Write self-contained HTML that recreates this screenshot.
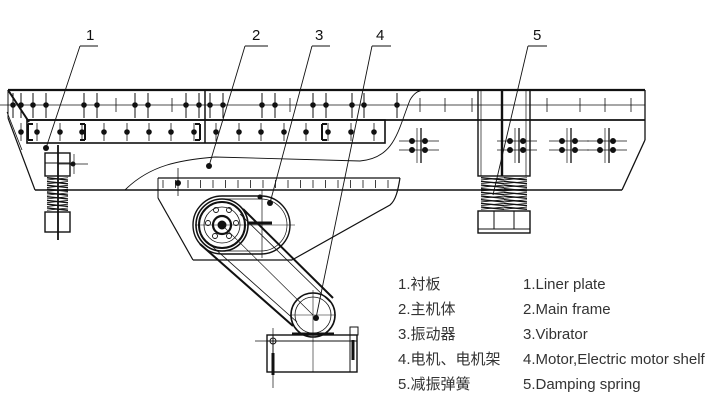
<!DOCTYPE html>
<html><head><meta charset="utf-8"><style>
html,body{margin:0;padding:0;background:#fff;width:715px;height:408px;overflow:hidden}
svg{position:absolute;left:0;top:0}
.t{font-family:"Liberation Sans","Noto Sans CJK SC",sans-serif;font-size:15px;fill:#333}
.n{font-family:"Liberation Sans",sans-serif;font-size:15px;fill:#111}
</style></head><body>
<svg id="s" width="715" height="408" viewBox="0 0 715 408" xmlns="http://www.w3.org/2000/svg">
<g stroke="#111" fill="none" stroke-width="1">
<line x1="8" y1="90" x2="645" y2="90" stroke-width="2.2"/>
<line x1="0" y1="105" x2="645" y2="105" stroke-width="0.7"/>
<line x1="27" y1="120" x2="645" y2="120" stroke-width="1.8"/>
<rect x="27" y="120" width="358" height="23" stroke-width="1.6"/>
<line x1="8" y1="90" x2="29" y2="122" stroke-width="2"/>
<line x1="8" y1="90" x2="8" y2="118" stroke-width="1"/>
<line x1="8" y1="118" x2="35" y2="190" stroke-width="1.2"/>
<line x1="7" y1="112" x2="22" y2="150" stroke-width="0.8"/>
<line x1="35" y1="190" x2="622" y2="190" stroke-width="1.4"/>
<line x1="645" y1="90" x2="645" y2="140" stroke-width="1.3"/>
<line x1="645" y1="140" x2="622" y2="190" stroke-width="1.3"/>
<line x1="205" y1="90" x2="205" y2="143" stroke-width="1.5"/>
<path d="M125,190 C150,165 180,160 215,157 L360,161 C395,158 398,130 410,100 C414,93 418,91 423,90" stroke-width="0.9"/>
<rect x="478" y="90" width="52" height="86" stroke-width="1.4"/>
<line x1="481" y1="90" x2="481" y2="176" stroke-width="0.7"/>
<line x1="502" y1="90" x2="502" y2="176" stroke-width="2.4"/>
<line x1="526" y1="90" x2="526" y2="176" stroke-width="0.7"/>
<rect x="478" y="211" width="52" height="22" stroke-width="1.4"/>
<line x1="478" y1="229" x2="530" y2="229"/>
<line x1="494" y1="211" x2="494" y2="229"/><line x1="514" y1="211" x2="514" y2="229"/>
<rect x="45" y="153" width="25" height="23" stroke-width="1.4"/>
<line x1="45" y1="163" x2="70" y2="163"/>
<rect x="45" y="212" width="25" height="20" stroke-width="1.4"/>
<line x1="58" y1="145" x2="58" y2="240" stroke-width="1.8"/>
<line x1="58" y1="164" x2="88" y2="164" stroke-width="0.7"/>
<line x1="74" y1="154" x2="74" y2="174" stroke-width="0.7"/>
<line x1="158" y1="178" x2="400" y2="178" stroke-width="1.3"/>
<line x1="158" y1="178" x2="158" y2="198"/>
<line x1="158" y1="198" x2="193" y2="260" stroke-width="1.2"/>
<line x1="193" y1="260" x2="292" y2="260" stroke-width="1.2"/>
<path d="M292,260 L390,205 C396,200 398,190 400,178" stroke-width="1.2"/>
<line x1="178" y1="168" x2="178" y2="196" stroke-width="0.8"/>
<rect x="193" y="196" width="97" height="58" rx="29" stroke-width="1.4"/>
<rect x="196" y="199" width="91" height="52" rx="26" stroke-width="0.7"/>
<line x1="262" y1="190" x2="262" y2="258" stroke-width="0.7"/>
<line x1="195" y1="225" x2="295" y2="225" stroke-width="0.6"/>
<circle cx="222" cy="225" r="26" stroke-width="1.6"/>
<circle cx="222" cy="225" r="23" stroke-width="2"/>
<circle cx="222" cy="225" r="18" stroke-width="0.8"/>
<circle cx="222" cy="225" r="9" stroke-width="2.2"/>
<circle cx="222" cy="225" r="4" fill="#111"/>
<g stroke-width="0.9"><circle cx="216" cy="210" r="2.5"/><circle cx="229" cy="210" r="2.5"/><circle cx="208" cy="223" r="2.5"/><circle cx="236" cy="223" r="2.5"/><circle cx="215" cy="236" r="2.5"/><circle cx="229" cy="236" r="2.5"/></g>
<line x1="248" y1="223" x2="272" y2="223" stroke-width="3"/>
<line x1="200" y1="244" x2="293" y2="326" stroke-width="2"/>
<line x1="205" y1="240" x2="297" y2="322" stroke-width="0.8"/>
<line x1="243" y1="209" x2="333" y2="298" stroke-width="2"/>
<line x1="240" y1="214" x2="330" y2="302" stroke-width="0.8"/>
<line x1="222" y1="225" x2="313" y2="315" stroke-width="0.6"/>
<circle cx="313" cy="315" r="22" stroke-width="1.6"/>
<circle cx="313" cy="315" r="18" stroke-width="0.8"/>
<line x1="290" y1="315" x2="336" y2="315" stroke-width="0.6"/>
<line x1="313" y1="290" x2="313" y2="372" stroke-width="0.6"/>
<path d="M292,334 L334,334" stroke-width="3"/>
<rect x="267" y="335" width="90" height="37" stroke-width="1.4"/>
<line x1="267" y1="341" x2="357" y2="341" stroke-width="1"/>
<line x1="273" y1="335" x2="273" y2="372"/>
<line x1="350" y1="335" x2="350" y2="372"/>
<line x1="255" y1="341" x2="283" y2="341" stroke-width="0.7"/>
<line x1="273" y1="328" x2="273" y2="388" stroke-width="0.7"/>
<circle cx="273" cy="341" r="3"/>
<line x1="273" y1="353" x2="273" y2="375" stroke-width="3"/>
<rect x="350" y="327" width="8" height="8"/>
<line x1="353" y1="340" x2="353" y2="360" stroke-width="3"/>
<g stroke-width="0.9">
<line x1="80" y1="46" x2="98" y2="46"/><line x1="80" y1="46" x2="46" y2="148"/>
<line x1="245" y1="46" x2="268" y2="46"/><line x1="245" y1="46" x2="209" y2="166"/>
<line x1="312" y1="46" x2="330" y2="46"/><line x1="312" y1="46" x2="270" y2="203"/>
<line x1="372" y1="46" x2="391" y2="46"/><line x1="372" y1="46" x2="316" y2="318"/>
<line x1="528" y1="46" x2="547" y2="46"/><line x1="528" y1="46" x2="493" y2="195"/>
</g>
</g>
<g fill="#111">
<circle cx="46" cy="148" r="3"/><circle cx="209" cy="166" r="3"/><circle cx="270" cy="203" r="3"/><circle cx="316" cy="318" r="3"/>
<circle cx="73" cy="164" r="2.5"/><circle cx="178" cy="183" r="3"/><circle cx="260" cy="197" r="2.5"/>
</g>
<g id="ticks" stroke="#111" fill="#111"></g>
<g id="coils" stroke="#111" fill="none" stroke-width="1.3"></g>
<text class="n" x="86" y="40">1</text>
<text class="n" x="252" y="40">2</text>
<text class="n" x="315" y="40">3</text>
<text class="n" x="376" y="40">4</text>
<text class="n" x="533" y="40">5</text>
<text class="t" x="398" y="289">1.衬板</text><text class="t" x="523" y="289">1.Liner plate</text>
<text class="t" x="398" y="314">2.主机体</text><text class="t" x="523" y="314">2.Main frame</text>
<text class="t" x="398" y="339">3.振动器</text><text class="t" x="523" y="339">3.Vibrator</text>
<text class="t" x="398" y="364">4.电机、电机架</text><text class="t" x="523" y="364">4.Motor,Electric motor shelf</text>
<text class="t" x="398" y="389">5.减振弹簧</text><text class="t" x="523" y="389">5.Damping spring</text>
</svg>
<script>
var NS="http://www.w3.org/2000/svg",g=document.getElementById("ticks"),c=document.getElementById("coils");
function L(p,x1,y1,x2,y2,w){var e=document.createElementNS(NS,"line");e.setAttribute("x1",x1);e.setAttribute("y1",y1);e.setAttribute("x2",x2);e.setAttribute("y2",y2);e.setAttribute("stroke-width",w||0.8);p.appendChild(e);}
function D(x,y,r){var e=document.createElementNS(NS,"circle");e.setAttribute("cx",x);e.setAttribute("cy",y);e.setAttribute("r",r||2.3);g.appendChild(e);}
[13,21,33,46,84,97,135,148,186,199,210,223,262,275,313,326,352,364,397].forEach(function(x){L(g,x,93,x,118,1);D(x,105);});
[116,172,290,420,445,472,547,580,605,631].forEach(function(x){L(g,x,98,x,112,0.8);});
[21,37,60,82,104,127,149,171,194,216,239,261,284,306,328,351,374].forEach(function(x){L(g,x,123,x,141,0.8);D(x,132);});
[[28,'l'],[85,'r'],[200,'r'],[322,'l']].forEach(function(a){var x=a[0];L(g,x,124,x,140,2);L(g,x,124,x+(a[1]=='l'?5:-5),124,2);L(g,x,140,x+(a[1]=='l'?5:-5),140,2);});
[[412],[510],[562],[600]].forEach(function(a){var x=a[0];L(g,x-13,141,x+27,141,0.7);L(g,x-13,150,x+27,150,0.7);L(g,x+5,128,x+5,163,0.7);L(g,x+9,128,x+9,163,1.3);[x,x+13].forEach(function(xx){D(xx,141,2.5);D(xx,150,2.5);});});
for(var x=163;x<398;x+=12.5){L(g,x,180,x,188,0.8);}
function coil(x1,x2,y1,y2,n){var h=(y2-y1)/n;for(var i=0;i<n;i++){var y=y1+i*h;L(c,x1,y+h*0.2,x2,y+h*0.8,1.4);L(c,x1,y+h*0.8,x2,y+h*0.2,0.8);}}
coil(47,68,177,211,9);coil(481,504,177,210,9);coil(504,527,177,210,9);
</script>
</body></html>
